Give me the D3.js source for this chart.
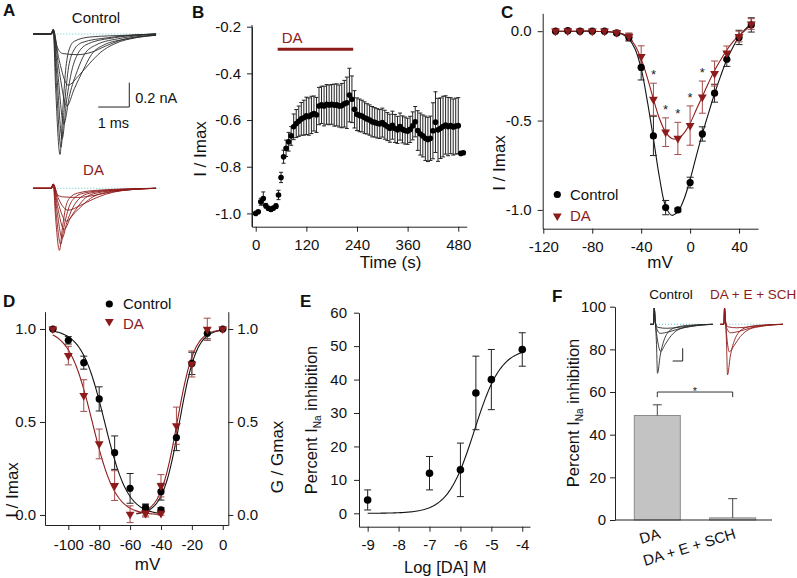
<!DOCTYPE html>
<html>
<head>
<meta charset="utf-8">
<script src="https://cdn.jsdelivr.net/npm/d3@7"></script>
<style>
body { margin: 0; background: #fff; }
svg { font-family: "Liberation Sans", Arial, sans-serif; }
</style>
</head>
<body>
<svg id="fig" width="797" height="578"></svg>
<script>
// ---- Panel A: Na current traces (time in ms, current in nA), key points
const traceOnset = [[-0.62, 0], [-0.04, 0], [0.02, 0.035]];
const controlTraces = [
  [[0.1, -0.45], [0.24, -0.99], [0.33, -0.62], [0.42, -0.3], [0.52, -0.14], [0.7, -0.06], [1.2, -0.025], [2.4, -0.01], [3.33, 0]],
  [[0.12, -0.4], [0.27, -0.93], [0.38, -0.6], [0.5, -0.3], [0.65, -0.15], [0.95, -0.07], [1.8, -0.03], [3.33, 0]],
  [[0.14, -0.35], [0.31, -0.86], [0.45, -0.55], [0.62, -0.3], [0.82, -0.16], [1.15, -0.08], [2.0, -0.03], [3.33, 0]],
  [[0.16, -0.3], [0.36, -0.74], [0.55, -0.5], [0.8, -0.3], [1.02, -0.17], [1.4, -0.09], [2.2, -0.035], [3.33, 0]],
  [[0.2, -0.28], [0.46, -0.59], [0.7, -0.45], [0.98, -0.3], [1.25, -0.17], [1.65, -0.09], [2.4, -0.04], [3.33, -0.01]],
  [[0.2, -0.2], [0.5, -0.42], [0.85, -0.34], [1.2, -0.24], [1.55, -0.15], [2.0, -0.08], [2.7, -0.03], [3.33, -0.01]],
  [[0.14, -0.1], [0.32, -0.16], [0.8, -0.17], [1.25, -0.15], [1.7, -0.1], [2.2, -0.05], [2.8, -0.02], [3.33, -0.01]]
];
const daTraces = [
  [[0.1, -0.25], [0.22, -0.51], [0.32, -0.32], [0.42, -0.16], [0.55, -0.08], [0.8, -0.04], [1.5, -0.015], [3.33, 0]],
  [[0.12, -0.22], [0.26, -0.46], [0.38, -0.3], [0.52, -0.16], [0.7, -0.08], [1.0, -0.04], [1.8, -0.015], [3.33, 0]],
  [[0.14, -0.18], [0.31, -0.41], [0.46, -0.28], [0.65, -0.16], [0.88, -0.08], [1.2, -0.04], [2.0, -0.015], [3.33, 0]],
  [[0.16, -0.15], [0.37, -0.34], [0.58, -0.24], [0.82, -0.15], [1.05, -0.08], [1.4, -0.04], [2.2, -0.015], [3.33, 0]],
  [[0.18, -0.12], [0.44, -0.27], [0.72, -0.2], [1.0, -0.13], [1.3, -0.07], [1.7, -0.035], [2.5, -0.01], [3.33, 0]],
  [[0.2, -0.09], [0.5, -0.18], [0.9, -0.14], [1.3, -0.09], [1.7, -0.05], [2.2, -0.02], [3.33, 0]],
  [[0.14, -0.05], [0.32, -0.07], [0.8, -0.075], [1.3, -0.06], [1.9, -0.03], [2.6, -0.01], [3.33, 0]]
];
const scaleBarA = [1, 0.2]; // ms, nA

// ---- Panel B: time course
const bTime = [0,6,12,18,24,30,36,42,48,54,60,66,72,78,84,90,96,102,108,114,120,126,132,138,144,150,156,162,168,174,180,186,192,198,204,210,216,222,228,234,240,246,252,258,264,270,276,282,288,294,300,306,312,318,324,330,336,342,348,354,360,366,372,378,384,390,396,402,408,414,420,426,432,438,444,450,456,462,468,474,480,486,492];
const bMean = [-1.000,-0.993,-0.950,-0.936,-0.967,-0.978,-0.983,-0.977,-0.969,-0.921,
  -0.846,-0.757,-0.721,-0.693,-0.668,-0.629,-0.615,-0.605,-0.595,-0.590,
  -0.582,-0.585,-0.578,-0.572,-0.578,-0.540,-0.535,-0.540,-0.533,-0.535,
  -0.533,-0.536,-0.535,-0.540,-0.538,-0.530,-0.526,-0.493,-0.511,-0.554,
  -0.575,-0.580,-0.583,-0.590,-0.595,-0.600,-0.607,-0.610,-0.614,-0.617,
  -0.611,-0.620,-0.628,-0.635,-0.622,-0.636,-0.642,-0.628,-0.640,-0.645,
  -0.648,-0.640,-0.625,-0.607,-0.645,-0.660,-0.668,-0.678,-0.683,-0.678,
  -0.646,-0.609,-0.642,-0.635,-0.628,-0.621,-0.628,-0.624,-0.630,-0.626,
  -0.624,-0.743,-0.740];
const bErr = [0.004,0.006,0.015,0.028,0.010,0.008,0.008,0.008,0.010,0.020,
  0.022,0.028,0.035,0.040,0.040,0.055,0.060,0.065,0.070,0.075,
  0.080,0.080,0.080,0.075,0.075,0.080,0.080,0.085,0.085,0.085,
  0.085,0.090,0.090,0.090,0.095,0.100,0.110,0.115,0.100,0.080,
  0.070,0.070,0.068,0.068,0.065,0.065,0.065,0.063,0.063,0.062,
  0.062,0.062,0.060,0.060,0.060,0.060,0.058,0.058,0.058,0.058,
  0.056,0.056,0.060,0.065,0.085,0.090,0.090,0.095,0.095,0.095,
  0.120,0.130,0.135,0.130,0.130,0.125,0.125,0.120,0.120,0.120,
  0.120,0.005,0.005];
const bDrugWindow = [52, 231];
const bTicksX = [0, 120, 240, 360, 480];
const bTicksY = [-1.0, -0.8, -0.6, -0.4, -0.2];

// ---- Panel C: I-V relation
const ivVolt = [-110,-100,-90,-80,-70,-60,-50,-40,-30,-20,-10,0,10,20,30,40,50];
const ivControl = [0,0.003,0,0,0,-0.01,-0.035,-0.203,-0.586,-0.987,-1.0,-0.847,-0.575,-0.347,-0.157,-0.035,0.035];
const ivControlErr = [0.005,0.005,0.005,0.005,0.005,0.01,0.02,0.07,0.11,0.04,0.01,0.03,0.04,0.05,0.04,0.04,0.04];
const ivDA = [0,0.002,0,0,0,-0.008,-0.03,-0.142,-0.381,-0.565,-0.6,-0.528,-0.369,-0.237,-0.123,-0.03,0.04];
const ivDAErr = [0.005,0.005,0.005,0.005,0.005,0.01,0.02,0.06,0.09,0.08,0.09,0.11,0.09,0.07,0.04,0.03,0.03];
const ivStars = [-30, -20, -10, 0, 10];
const ivFitVolt = [-110,-100,-90,-80,-70,-60,-55,-50,-45,-40,-35,-30,-25,-20,-15,-10,-5,0,5,10,15,20,25,30,35,40,45,50];
const ivFitControl = [0,0,0,0,-0.002,-0.008,-0.018,-0.045,-0.1,-0.21,-0.39,-0.6,-0.82,-0.98,-1.03,-1.01,-0.94,-0.83,-0.7,-0.575,-0.46,-0.35,-0.25,-0.16,-0.09,-0.03,0.01,0.04];
const ivFitDA = [0,0,0,0,-0.002,-0.008,-0.015,-0.035,-0.08,-0.155,-0.26,-0.38,-0.49,-0.565,-0.6,-0.6,-0.57,-0.515,-0.44,-0.365,-0.29,-0.22,-0.16,-0.105,-0.06,-0.025,0.005,0.035];
const ivTicksX = [-120, -80, -40, 0, 40];
const ivTicksY = [-1.0, -0.5, 0.0];

// ---- Panel D: inactivation / activation
const inactVolt = [-110,-100,-90,-80,-70,-60,-50,-40];
const inactControl = [1.0,0.939,0.819,0.624,0.335,0.143,0.039,0.027];
const inactControlErr = [0,0.02,0.035,0.065,0.09,0.08,0.02,0.012];
const inactDA = [1.0,0.857,0.642,0.382,0.158,0.004,0.009,0.009];
const inactDAErr = [0,0.05,0.085,0.08,0.08,0.045,0.02,0.01];
const actVolt = [-50,-40,-30,-20,-10,0];
const actControl = [0.035,0.125,0.416,0.815,0.977,1.0];
const actControlErr = [0.02,0.045,0.07,0.06,0.03,0];
const actDA = [0.01,0.157,0.48,0.812,0.998,1.0];
const actDAErr = [0.015,0.06,0.1,0.07,0.06,0];
const inactFitControl = [-76.5, 7.5]; // V1/2, slope
const inactFitDA = [-84.5, 7.5];
const actFitControl = [-28, 5.5];
const actFitDA = [-29.5, 5.5];
const dTicksX = [-100, -80, -60, -40, -20, 0];
const dTicksY = [0.0, 0.5, 1.0];

// ---- Panel E: dose response
const doseLog = [-9, -7, -6, -5.5, -5, -4];
const doseInhib = [4, 12, 13, 36, 40, 49];
const doseErr = [3, 5, 8, 11, 9, 5];
const doseFit = [49.5, -5.55, 1.0]; // top, log EC50, Hill slope
const eTicksX = [-9, -8, -7, -6, -5, -4];
const eTicksY = [0, 10, 20, 30, 40, 50, 60];

// ---- Panel F: bars + inset traces
const barGroups = ["DA", "DA + E + SCH"];
const barMean = [49, 1];
const barErr = [5, 9];
const fTicksY = [0, 20, 40, 60, 80, 100];
const insetOnset = [[-0.16, 0], [-0.02, 0], [0.01, 0.32]];
const insetControl = [
  [[0.05, 0.1], [0.1, -0.4], [0.14, -0.98], [0.25, -0.62], [0.4, -0.32], [0.6, -0.14], [0.9, -0.06], [1.4, -0.02], [2.35, 0]],
  [[0.05, 0.05], [0.12, -0.25], [0.27, -0.54], [0.45, -0.4], [0.7, -0.22], [1.0, -0.1], [1.5, -0.04], [2.35, 0]],
  [[0.05, 0.05], [0.12, -0.1], [0.25, -0.18], [0.6, -0.15], [1.0, -0.09], [1.5, -0.04], [2.35, 0]],
  [[0.05, 0.05], [0.15, -0.06], [0.5, -0.08], [1.0, -0.06], [1.6, -0.02], [2.35, 0]]
];
const insetDrug = [
  [[0.05, 0.1], [0.09, -0.4], [0.13, -1.01], [0.24, -0.64], [0.4, -0.33], [0.6, -0.15], [0.9, -0.06], [1.4, -0.02], [2.35, 0]],
  [[0.05, 0.05], [0.1, -0.25], [0.2, -0.55], [0.4, -0.42], [0.65, -0.24], [1.0, -0.1], [1.5, -0.04], [2.35, 0]],
  [[0.05, 0.05], [0.12, -0.1], [0.25, -0.17], [0.6, -0.14], [1.0, -0.08], [1.5, -0.03], [2.35, 0]],
  [[0.05, 0.05], [0.15, -0.05], [0.5, -0.07], [1.0, -0.05], [1.6, -0.02], [2.35, 0]]
];

// ------------------------------------------------------------------
const svg = d3.select("#fig");
const RED = "#8e1b1b";
const RED_ERR = "#a54a4a";
const FONT = "Liberation Sans, Arial, sans-serif";

function styleAxis(g, size) {
  g.attr("font-family", FONT).attr("font-size", size || 15);
  g.selectAll("path, line").attr("stroke", "#222");
  g.selectAll("text").attr("fill", "#111");
}
function fmt1(d) { return d.toFixed(1); }
function fmt0(d) { return String(d); }

function errorBars(g, xs, ys, es, x, y, cap, color, upOnly) {
  g.append("g").selectAll("path").data(xs).join("path")
    .attr("d", (d, i) => {
      let X = x(d), lo = y(upOnly ? ys[i] : ys[i] - es[i]), hi = y(ys[i] + es[i]);
      let p = `M${X},${lo}V${hi}M${X - cap},${hi}h${2 * cap}`;
      if (!upOnly) p += `M${X - cap},${lo}h${2 * cap}`;
      return p;
    })
    .attr("stroke", color).attr("stroke-width", 1).attr("fill", "none");
}
function circles(g, xs, ys, x, y, r, color) {
  g.append("g").selectAll("circle").data(xs).join("circle")
    .attr("cx", d => x(d)).attr("cy", (d, i) => y(ys[i])).attr("r", r).attr("fill", color);
}
function triangles(g, xs, ys, x, y, size, color) {
  let sym = d3.symbol(d3.symbolTriangle).size(size);
  g.append("g").selectAll("path").data(xs).join("path")
    .attr("d", sym)
    .attr("transform", (d, i) => `translate(${x(d)},${y(ys[i])}) rotate(180)`)
    .attr("fill", color);
}
function panelLetter(t, x, y) {
  svg.append("text").attr("x", x).attr("y", y).text(t)
    .attr("font-size", 17).attr("font-weight", "bold").attr("fill", "#111");
}
function yLabel(g, x, y, size, build) {
  let t = g.append("text").attr("transform", `translate(${x},${y}) rotate(-90)`)
    .attr("text-anchor", "middle").attr("dy", "0.35em").attr("font-size", size).attr("fill", "#111");
  build(t);
}
function traceLine(x, y) {
  return d3.line().x(d => x(d[0])).y(d => y(d[1])).curve(d3.curveMonotoneX);
}

// ================= Panel A =================
const gA = svg.append("g");
panelLetter("A", 3, 16);
const ax = d3.scaleLinear().domain([-0.62, 3.33]).range([33.3, 156]);
const ayC = d3.scaleLinear().domain([0, -1]).range([34, 155.7]);
const ayD = d3.scaleLinear().domain([0, -1]).range([188.3, 310]);
[[ayC, controlTraces, "#2a2a2a"], [ayD, daTraces, RED]].forEach(([yS, traces, col]) => {
  gA.append("line").attr("x1", ax(-0.62)).attr("x2", ax(3.45)).attr("y1", yS(0)).attr("y2", yS(0))
    .attr("stroke", "#5cc8c8").attr("stroke-dasharray", "1,2").attr("stroke-width", 1);
  let ln = traceLine(ax, yS);
  gA.append("g").selectAll("path").data(traces).join("path")
    .attr("d", tr => ln(traceOnset.concat(tr)))
    .attr("fill", "none").attr("stroke", col).attr("stroke-width", 0.9);
});
gA.append("text").attr("x", 96).attr("y", 23).attr("text-anchor", "middle")
  .attr("font-size", 15).attr("fill", "#111").text("Control");
gA.append("text").attr("x", 93.5).attr("y", 175).attr("text-anchor", "middle")
  .attr("font-size", 15).attr("fill", RED).text("DA");
// scale bar
const sbT = 2.47, sbI = -0.6;
gA.append("path")
  .attr("d", `M${ax(sbT - scaleBarA[0])},${ayC(sbI)}H${ax(sbT)}V${ayC(sbI + scaleBarA[1])}`)
  .attr("fill", "none").attr("stroke", "#222").attr("stroke-width", 1);
gA.append("text").attr("x", ax(sbT) + 6).attr("y", 103).attr("font-size", 14.5).attr("fill", "#111").text("0.2 nA");
gA.append("text").attr("x", 97.7).attr("y", 128).attr("font-size", 14.5).attr("fill", "#111").text("1 ms");

// ================= Panel B =================
const gB = svg.append("g");
panelLetter("B", 192, 18);
const bx = d3.scaleLinear().domain([-8.8, 500]).range([252, 466.7]);
const by = d3.scaleLinear().domain([-1.057, -0.2]).range([226.7, 26.7]);
gB.append("g").attr("transform", "translate(0,226.7)")
  .call(d3.axisBottom(bx).tickValues(bTicksX).tickFormat(fmt0).tickSize(5).tickPadding(8).tickSizeOuter(0)).call(styleAxis);
gB.append("g").attr("transform", "translate(252,0)")
  .call(d3.axisLeft(by).tickValues(bTicksY).tickFormat(fmt1).tickSize(5).tickPadding(6).tickSizeOuter(0)).call(styleAxis);
gB.append("line").attr("x1", 252).attr("x2", 252).attr("y1", 25).attr("y2", 226.7).attr("stroke", "#222");
errorBars(gB, bTime, bMean, bErr, bx, by, 2, "#222");
circles(gB, bTime, bMean, bx, by, 2.8, "#000");
gB.append("line").attr("x1", bx(bDrugWindow[0])).attr("x2", bx(bDrugWindow[1]))
  .attr("y1", 49.3).attr("y2", 49.3).attr("stroke", RED).attr("stroke-width", 3);
gB.append("text").attr("x", 281.7).attr("y", 42.5).attr("font-size", 15).attr("fill", RED).text("DA");
gB.append("text").attr("x", 390.5).attr("y", 268).attr("text-anchor", "middle")
  .attr("font-size", 17).attr("fill", "#111").text("Time (s)");
yLabel(gB, 200, 149, 17, t => t.text("I / Imax"));

// ================= Panel C =================
const gC = svg.append("g");
panelLetter("C", 501, 18);
const cx = d3.scaleLinear().domain([-120.5, 55.5]).range([542.7, 758]);
const cy = d3.scaleLinear().domain([-1.105, 0.1]).range([228.7, 13.3]);
gC.append("g").attr("transform", "translate(0,228.7)")
  .call(d3.axisBottom(cx).tickValues(ivTicksX).tickFormat(fmt0).tickSize(5).tickPadding(8).tickSizeOuter(0)).call(styleAxis);
gC.append("g").attr("transform", "translate(542.7,0)")
  .call(d3.axisLeft(cy).tickValues(ivTicksY).tickFormat(fmt1).tickSize(5).tickPadding(6).tickSizeOuter(0)).call(styleAxis);
const cLine = d3.line().x((d, i) => cx(ivFitVolt[i])).y(d => cy(d)).curve(d3.curveCatmullRom);
gC.append("path").attr("d", cLine(ivFitControl)).attr("fill", "none").attr("stroke", "#111").attr("stroke-width", 1.1);
gC.append("path").attr("d", cLine(ivFitDA)).attr("fill", "none").attr("stroke", RED).attr("stroke-width", 1.1);
errorBars(gC, ivVolt, ivControl, ivControlErr, cx, cy, 3.5, "#222");
errorBars(gC, ivVolt, ivDA, ivDAErr, cx, cy, 3.5, RED_ERR);
circles(gC, ivVolt, ivControl, cx, cy, 3.6, "#000");
triangles(gC, ivVolt, ivDA, cx, cy, 34, RED);
gC.append("g").selectAll("text").data(ivStars).join("text")
  .attr("x", d => cx(d)).attr("text-anchor", "middle").attr("font-size", 13).attr("fill", "#222")
  .attr("y", d => { let i = ivVolt.indexOf(d); return cy(ivDA[i] + ivDAErr[i] + 0.068) + 8; })
  .text("*");
gC.append("circle").attr("cx", 557.3).attr("cy", 194.5).attr("r", 3.6).attr("fill", "#000");
gC.append("text").attr("x", 570).attr("y", 200).attr("font-size", 15).attr("fill", "#111").text("Control");
gC.append("path").attr("d", d3.symbol(d3.symbolTriangle).size(34))
  .attr("transform", "translate(557.3,216) rotate(180)").attr("fill", RED);
gC.append("text").attr("x", 570).attr("y", 220.5).attr("font-size", 15).attr("fill", RED).text("DA");
gC.append("text").attr("x", 660).attr("y", 268).attr("text-anchor", "middle")
  .attr("font-size", 17).attr("fill", "#111").text("mV");
yLabel(gC, 499, 163, 17, t => t.text("I / Imax"));

// ================= Panel D =================
const gD = svg.append("g");
panelLetter("D", 3, 307);
const dx = d3.scaleLinear().domain([-115.1, 3.6]).range([45, 228.3]);
const dy = d3.scaleLinear().domain([-0.054, 1.093]).range([525, 311.7]);
gD.append("g").attr("transform", "translate(0,525)")
  .call(d3.axisBottom(dx).tickValues(dTicksX).tickFormat(fmt0).tickSize(5).tickPadding(9).tickSizeOuter(0)).call(styleAxis);
gD.append("g").attr("transform", "translate(45,0)")
  .call(d3.axisLeft(dy).tickValues(dTicksY).tickFormat(fmt1).tickSize(5).tickPadding(4).tickSizeOuter(0)).call(styleAxis);
gD.append("g").attr("transform", "translate(228.3,0)")
  .call(d3.axisRight(dy).tickValues(dTicksY).tickFormat(fmt1).tickSize(5).tickPadding(4).tickSizeOuter(0)).call(styleAxis);
const boltz = (p, sign) => v => 1 / (1 + Math.exp(sign * (v - p[0]) / p[1]));
const dLine = f => d3.line().x(v => dx(v)).y(v => dy(f(v)));
const inactV = d3.range(-110, -39.9, 0.5), actV = d3.range(-56, 0.01, 0.5);
gD.append("path").attr("d", dLine(boltz(inactFitControl, 1))(inactV)).attr("fill", "none").attr("stroke", "#111").attr("stroke-width", 1.1);
gD.append("path").attr("d", dLine(boltz(inactFitDA, 1))(inactV)).attr("fill", "none").attr("stroke", RED).attr("stroke-width", 1.1);
gD.append("path").attr("d", dLine(boltz(actFitControl, -1))(actV)).attr("fill", "none").attr("stroke", "#111").attr("stroke-width", 1.1);
gD.append("path").attr("d", dLine(boltz(actFitDA, -1))(actV)).attr("fill", "none").attr("stroke", RED).attr("stroke-width", 1.1);
errorBars(gD, inactVolt, inactControl, inactControlErr, dx, dy, 3.5, "#222");
errorBars(gD, actVolt, actControl, actControlErr, dx, dy, 3.5, "#222");
errorBars(gD, inactVolt, inactDA, inactDAErr, dx, dy, 3.5, RED_ERR);
errorBars(gD, actVolt, actDA, actDAErr, dx, dy, 3.5, RED_ERR);
circles(gD, inactVolt, inactControl, dx, dy, 3.6, "#000");
circles(gD, actVolt, actControl, dx, dy, 3.6, "#000");
triangles(gD, inactVolt, inactDA, dx, dy, 34, RED);
triangles(gD, actVolt, actDA, dx, dy, 34, RED);
gD.append("circle").attr("cx", 109.3).attr("cy", 304).attr("r", 3.6).attr("fill", "#000");
gD.append("text").attr("x", 123).attr("y", 309).attr("font-size", 15).attr("fill", "#111").text("Control");
gD.append("path").attr("d", d3.symbol(d3.symbolTriangle).size(34))
  .attr("transform", "translate(109.3,321.5) rotate(180)").attr("fill", RED);
gD.append("text").attr("x", 123).attr("y", 328.5).attr("font-size", 15).attr("fill", RED).text("DA");
gD.append("text").attr("x", 147.5).attr("y", 570).attr("text-anchor", "middle")
  .attr("font-size", 17).attr("fill", "#111").text("mV");
yLabel(gD, 12, 490, 17, t => t.text("I / Imax"));
yLabel(gD, 277, 457, 17, t => t.text("G / Gmax"));

// ================= Panel E =================
const gE = svg.append("g");
panelLetter("E", 300, 307);
const ex = d3.scaleLinear().domain([-9.28, -3.75]).range([359, 530]);
const ey = d3.scaleLinear().domain([-4, 60]).range([526.7, 312.7]);
gE.append("g").attr("transform", "translate(0,526.7)")
  .call(d3.axisBottom(ex).tickValues(eTicksX).tickFormat(fmt0).tickSize(5).tickPadding(8).tickSizeOuter(0)).call(styleAxis);
gE.append("g").attr("transform", "translate(359,0)")
  .call(d3.axisLeft(ey).tickValues(eTicksY).tickFormat(fmt0).tickSize(5).tickPadding(7).tickSizeOuter(0)).call(styleAxis);
const hill = v => doseFit[0] / (1 + Math.pow(10, (doseFit[1] - v) * doseFit[2]));
gE.append("path").attr("d", d3.line().x(v => ex(v)).y(v => ey(hill(v)))(d3.range(-9, -3.99, 0.05)))
  .attr("fill", "none").attr("stroke", "#111").attr("stroke-width", 1.1);
errorBars(gE, doseLog, doseInhib, doseErr, ex, ey, 3.5, "#222");
circles(gE, doseLog, doseInhib, ex, ey, 3.8, "#000");
gE.append("text").attr("x", 445.3).attr("y", 573).attr("text-anchor", "middle")
  .attr("font-size", 16.5).attr("fill", "#111").text("Log [DA] M");
function inaLabel(t) {
  t.append("tspan").text("Percent I");
  t.append("tspan").attr("font-size", 10).attr("dy", 4).text("Na");
  t.append("tspan").attr("dy", -4).text(" inhibition");
}
yLabel(gE, 311.7, 420, 16.5, inaLabel);

// ================= Panel F =================
const gF = svg.append("g");
panelLetter("F", 552, 302);
const fx = d3.scaleBand().domain(barGroups).range([615, 775]).paddingInner(0.39).paddingOuter(0.256);
const fy = d3.scaleLinear().domain([0, 100]).range([520, 306.7]);
gF.append("g").attr("transform", "translate(615,0)")
  .call(d3.axisLeft(fy).tickValues(fTicksY).tickFormat(fmt0).tickSize(5).tickPadding(4).tickSizeOuter(0)).call(styleAxis);
gF.append("g").selectAll("rect").data(barGroups).join("rect")
  .attr("x", d => fx(d)).attr("width", fx.bandwidth())
  .attr("y", (d, i) => fy(barMean[i])).attr("height", (d, i) => fy(0) - fy(barMean[i]))
  .attr("fill", "#c3c3c3").attr("stroke", "#8a8a8a").attr("stroke-width", 1);
errorBars(gF, barGroups, barMean, barErr, d => fx(d) + fx.bandwidth() / 2, fy, 4.5, "#444", true);
gF.append("line").attr("x1", 615).attr("x2", 772).attr("y1", 520).attr("y2", 520).attr("stroke", "#222");
const bx1 = fx(barGroups[0]) + fx.bandwidth() / 2, bx2 = fx(barGroups[1]) + fx.bandwidth() / 2;
gF.append("path").attr("d", `M${bx1},${fy(57.6)}V${fy(60)}H${bx2}V${fy(57.6)}`)
  .attr("fill", "none").attr("stroke", "#333").attr("stroke-width", 1);
gF.append("text").attr("x", (bx1 + bx2) / 2).attr("y", 395).attr("text-anchor", "middle")
  .attr("font-size", 11).attr("fill", "#222").text("*");
gF.append("g").selectAll("text").data(barGroups).join("text")
  .attr("transform", d => `translate(${fx(d) + fx.bandwidth() / 2 + 4},538) rotate(-17)`)
  .attr("text-anchor", "end").attr("font-size", 15).attr("fill", "#111").text(d => d);
yLabel(gF, 573.3, 413, 16.5, inaLabel);
const fyIn = d3.scaleLinear().domain([0, -1]).range([324.3, 374.3]);
[[650, insetControl, "#2a2a2a"], [720.3, insetDrug, RED]].forEach(([x0, traces, col]) => {
  let xs = d3.scaleLinear().domain([-0.16, 2.35]).range([x0, x0 + 62.7]);
  gF.append("line").attr("x1", xs(-0.16)).attr("x2", xs(2.35)).attr("y1", fyIn(0)).attr("y2", fyIn(0))
    .attr("stroke", "#5cc8c8").attr("stroke-dasharray", "1,2");
  let ln = traceLine(xs, fyIn);
  gF.append("g").selectAll("path").data(traces).join("path")
    .attr("d", tr => ln(insetOnset.concat(tr)))
    .attr("fill", "none").attr("stroke", col).attr("stroke-width", 0.9);
});
gF.append("path").attr("d", "M672.7,361H682.7V348.3").attr("fill", "none").attr("stroke", "#222");
gF.append("text").attr("x", 649.3).attr("y", 298.5).attr("font-size", 13.5).attr("fill", "#111").text("Control");
gF.append("text").attr("x", 710).attr("y", 298.5).attr("font-size", 13.5).attr("fill", RED).text("DA + E + SCH");
</script>
</body>
</html>
